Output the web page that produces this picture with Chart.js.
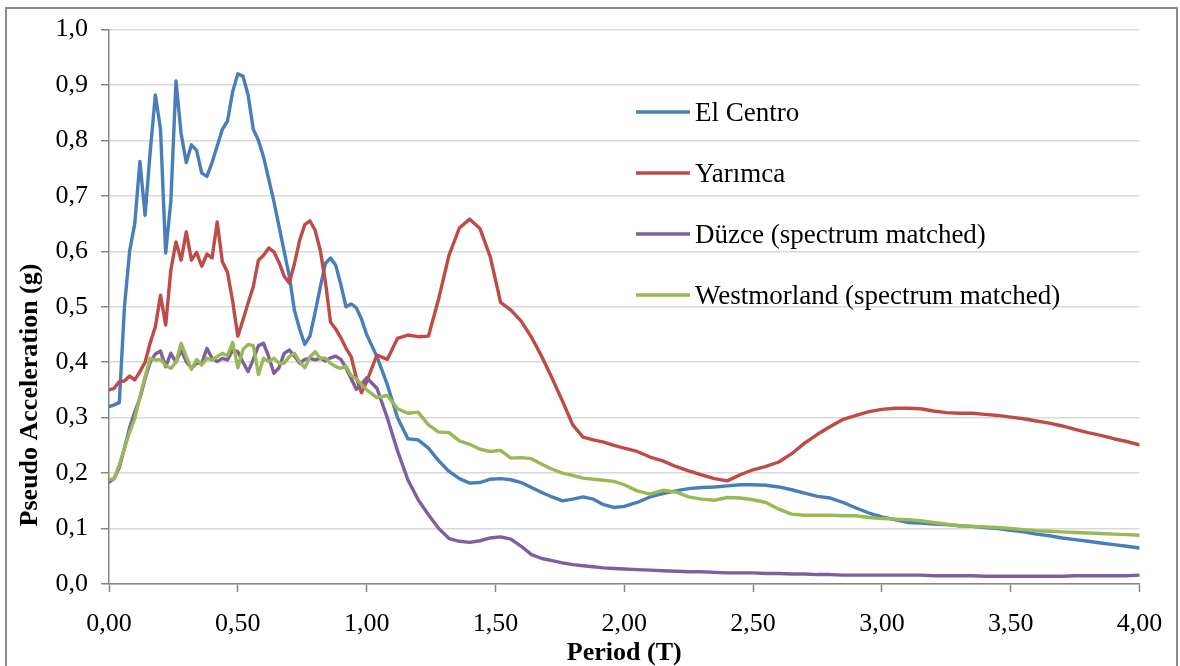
<!DOCTYPE html>
<html>
<head>
<meta charset="utf-8">
<script src="https://cdn.jsdelivr.net/npm/chart.js@4.4.1/dist/chart.umd.min.js"></script>
<style>
  html, body { margin: 0; padding: 0; background: #ffffff; }
  #chart { display: block; }
</style>
</head>
<body>
<canvas id="chart" width="1180" height="666"></canvas>
<script>
// Periods (s) shared by all four response spectra
const periods = [
  0, 0.02, 0.04, 0.06, 0.08, 0.1, 0.12, 0.14, 0.16, 0.18,
  0.2, 0.22, 0.24, 0.26, 0.28, 0.3, 0.32, 0.34, 0.36, 0.38,
  0.4, 0.42, 0.44, 0.46, 0.48, 0.5, 0.52, 0.54, 0.56, 0.58,
  0.6, 0.62, 0.64, 0.66, 0.68, 0.7, 0.72, 0.74, 0.76, 0.78,
  0.8, 0.82, 0.84, 0.86, 0.88, 0.9, 0.92, 0.94, 0.96, 0.98, 1.0,
  1.04, 1.08, 1.12, 1.16, 1.2, 1.24, 1.28, 1.32, 1.36, 1.4,
  1.44, 1.48, 1.52, 1.56, 1.6, 1.64, 1.68, 1.72, 1.76, 1.8,
  1.84, 1.88, 1.92, 1.96, 2.0,
  2.05, 2.1, 2.15, 2.2, 2.25, 2.3, 2.35, 2.4, 2.45, 2.5,
  2.55, 2.6, 2.65, 2.7, 2.75, 2.8, 2.85, 2.9, 2.95, 3.0,
  3.05, 3.1, 3.15, 3.2, 3.25, 3.3, 3.35, 3.4, 3.45, 3.5,
  3.55, 3.6, 3.65, 3.7, 3.75, 3.8, 3.85, 3.9, 3.95, 4.0
];

// Pseudo acceleration (g)
const elCentro = [
  0.32, 0.323, 0.327, 0.50, 0.60, 0.65, 0.762, 0.665, 0.78, 0.882,
  0.82, 0.597, 0.69, 0.907, 0.812, 0.76, 0.792, 0.782, 0.741, 0.735,
  0.76, 0.79, 0.82, 0.835, 0.888, 0.92, 0.916, 0.882, 0.82, 0.80,
  0.77, 0.73, 0.69, 0.645, 0.60, 0.555, 0.493, 0.46, 0.432, 0.447,
  0.49, 0.535, 0.578, 0.588, 0.575, 0.54, 0.50, 0.505, 0.498, 0.478, 0.45,
  0.41, 0.36, 0.30, 0.262, 0.26, 0.245, 0.222, 0.203, 0.19, 0.182,
  0.183, 0.189, 0.19, 0.188, 0.183, 0.174, 0.165, 0.157, 0.15, 0.153,
  0.157, 0.153, 0.143, 0.138, 0.14,
  0.147, 0.157, 0.163, 0.168, 0.172, 0.174, 0.175, 0.177, 0.179, 0.179,
  0.178, 0.175, 0.17, 0.164, 0.158, 0.155, 0.147, 0.137, 0.128, 0.121,
  0.116, 0.111, 0.11, 0.108, 0.107, 0.105, 0.104, 0.102, 0.10, 0.097,
  0.094, 0.09, 0.087, 0.083, 0.08, 0.077, 0.074, 0.071, 0.068, 0.065
];

const yarimca = [
  0.35, 0.353, 0.365, 0.366, 0.375, 0.368, 0.383, 0.40, 0.435, 0.464,
  0.521, 0.467, 0.566, 0.617, 0.584, 0.635, 0.584, 0.598, 0.573, 0.595,
  0.588, 0.653, 0.581, 0.562, 0.51, 0.447, 0.476, 0.507, 0.536, 0.584,
  0.593, 0.606, 0.599, 0.58, 0.555, 0.543, 0.578, 0.62, 0.648, 0.655,
  0.638, 0.602, 0.545, 0.472, 0.46, 0.444, 0.425, 0.41, 0.372, 0.345, 0.365,
  0.413, 0.405, 0.443, 0.449, 0.446, 0.447, 0.515, 0.593, 0.642, 0.658,
  0.641, 0.59, 0.508, 0.494, 0.474, 0.445, 0.41, 0.371, 0.33, 0.287,
  0.265, 0.26, 0.256, 0.25, 0.245,
  0.239, 0.229, 0.222, 0.212, 0.204, 0.197, 0.19, 0.186, 0.197, 0.206,
  0.212, 0.22, 0.235, 0.254, 0.27, 0.284, 0.297, 0.304, 0.311, 0.315,
  0.317, 0.317, 0.316, 0.312, 0.309, 0.308, 0.308, 0.306, 0.304, 0.301,
  0.298, 0.294, 0.29, 0.285, 0.279, 0.273, 0.268, 0.262, 0.257, 0.251
];

const duzce = [
  0.184, 0.19, 0.21, 0.245, 0.282, 0.31, 0.335, 0.37, 0.40, 0.415,
  0.42, 0.392, 0.416, 0.40, 0.422, 0.401, 0.389, 0.398, 0.398, 0.425,
  0.407, 0.401, 0.407, 0.404, 0.422, 0.419, 0.40, 0.383, 0.405, 0.43,
  0.434, 0.41, 0.38, 0.39, 0.416, 0.422, 0.411, 0.398, 0.405, 0.407,
  0.404, 0.407, 0.402, 0.408, 0.411, 0.405, 0.39, 0.37, 0.351, 0.36, 0.372,
  0.353, 0.30, 0.24, 0.188, 0.152, 0.125, 0.10, 0.082, 0.077, 0.075,
  0.078, 0.083, 0.085, 0.081, 0.068, 0.053, 0.046, 0.042, 0.038, 0.035,
  0.033, 0.031, 0.029, 0.028, 0.027,
  0.026, 0.025, 0.024, 0.023, 0.022, 0.022, 0.021, 0.02, 0.02, 0.02,
  0.019, 0.019, 0.018, 0.018, 0.017, 0.017, 0.016, 0.016, 0.016, 0.016,
  0.016, 0.016, 0.016, 0.015, 0.015, 0.015, 0.015, 0.014, 0.014, 0.014,
  0.014, 0.014, 0.014, 0.014, 0.015, 0.015, 0.015, 0.015, 0.015, 0.016
];

const westmorland = [
  0.188, 0.19, 0.215, 0.245, 0.274, 0.298, 0.338, 0.374, 0.407, 0.404,
  0.405, 0.394, 0.389, 0.40, 0.434, 0.41, 0.387, 0.405, 0.395, 0.407,
  0.404, 0.41, 0.416, 0.412, 0.436, 0.39, 0.423, 0.432, 0.43, 0.378,
  0.407, 0.401, 0.407, 0.398, 0.398, 0.41, 0.416, 0.401, 0.39, 0.41,
  0.419, 0.407, 0.407, 0.398, 0.392, 0.389, 0.393, 0.376, 0.37, 0.36, 0.35,
  0.336, 0.34, 0.316, 0.308, 0.31, 0.287, 0.274, 0.273, 0.258, 0.252,
  0.243, 0.239, 0.241, 0.227, 0.228, 0.226, 0.216, 0.207, 0.2, 0.196,
  0.191, 0.189, 0.187, 0.185, 0.179,
  0.168, 0.162, 0.169, 0.166, 0.157, 0.153, 0.151, 0.156, 0.155, 0.152,
  0.147, 0.135, 0.126, 0.124, 0.124, 0.124, 0.123, 0.123, 0.12, 0.118,
  0.117, 0.116, 0.114, 0.111, 0.108, 0.105, 0.104, 0.103, 0.102, 0.10,
  0.098, 0.096, 0.095, 0.094, 0.093, 0.092, 0.091, 0.09, 0.089, 0.088
];

const seriesNames = ['El Centro', 'Yarımca', 'Düzce (spectrum matched)', 'Westmorland (spectrum matched)'];
const seriesValues = [elCentro, yarimca, duzce, westmorland];
const seriesColors = ['#4a7ebb', '#be4b48', '#7d60a0', '#98b954'];

const xTitle = 'Period (T)';
const yTitle = 'Pseudo Acceleration (g)';

const SERIF = "'Liberation Serif', 'Times New Roman', serif";
const AXIS_GREY = '#868686';

// Outer frame of the chart
const framePlugin = {
  id: 'frame',
  beforeDraw(chart) {
    const ctx = chart.ctx;
    ctx.save();
    ctx.fillStyle = '#ffffff';
    ctx.fillRect(0, 0, chart.width, chart.height);
    ctx.strokeStyle = '#8c8c8c';
    ctx.lineWidth = 2;
    ctx.strokeRect(6, 8, 1171, 700);
    ctx.restore();
  }
};

// Vertical axis title, set lower than the plot's mid-height
const yTitlePlugin = {
  id: 'yTitle',
  afterDraw(chart) {
    const ctx = chart.ctx;
    ctx.save();
    ctx.translate(30, 395);
    ctx.rotate(-Math.PI / 2);
    ctx.font = 'bold 26px ' + SERIF;
    ctx.fillStyle = '#000000';
    ctx.textAlign = 'center';
    ctx.textBaseline = 'middle';
    ctx.fillText(yTitle, 0, 0);
    ctx.restore();
  }
};

// Legend stacked inside the plot area
const insideLegend = {
  id: 'insideLegend',
  afterDatasetsDraw(chart) {
    const ctx = chart.ctx;
    ctx.save();
    ctx.font = '27px ' + SERIF;
    ctx.textBaseline = 'alphabetic';
    ctx.textAlign = 'left';
    chart.data.datasets.forEach((ds, i) => {
      const y = 112 + i * 61;
      ctx.strokeStyle = ds.borderColor;
      ctx.lineWidth = 3.3;
      ctx.lineCap = 'butt';
      ctx.beginPath();
      ctx.moveTo(636, y);
      ctx.lineTo(690, y);
      ctx.stroke();
      ctx.fillStyle = '#000000';
      ctx.fillText(ds.label, 695, y + 9);
    });
    ctx.restore();
  }
};

const datasets = seriesNames.map((name, i) => ({
  label: name,
  data: periods.map((t, k) => ({ x: t, y: seriesValues[i][k] })),
  borderColor: seriesColors[i],
  backgroundColor: seriesColors[i],
  borderWidth: 3.4,
  pointRadius: 0,
  pointHoverRadius: 0,
  tension: 0,
  borderJoinStyle: 'round',
  borderCapStyle: 'round',
  fill: false,
  order: seriesNames.length - i
}));

new Chart(document.getElementById('chart'), {
  type: 'line',
  data: { datasets },
  plugins: [framePlugin, yTitlePlugin, insideLegend],
  options: {
    responsive: false,
    animation: false,
    devicePixelRatio: 1,
    layout: { padding: { left: 10, right: 40.5, top: 29.5, bottom: 0 } },
    plugins: {
      legend: { display: false },
      tooltip: { enabled: false }
    },
    scales: {
      x: {
        type: 'linear',
        min: 0,
        max: 4,
        afterFit(scale) { scale.height = 82; },
        ticks: {
          stepSize: 0.5,
          autoSkip: false,
          maxRotation: 0,
          minRotation: 0,
          padding: 17,
          color: '#000000',
          font: { family: SERIF, size: 26 },
          callback: (v) => Number(v).toFixed(2).replace('.', ',')
        },
        grid: {
          drawOnChartArea: false,
          drawTicks: true,
          tickLength: 8,
          tickColor: AXIS_GREY,
          tickWidth: 1.5
        },
        border: { display: true, color: AXIS_GREY, width: 1.5 },
        title: {
          display: true,
          text: xTitle,
          color: '#000000',
          font: { family: SERIF, size: 26, weight: 'bold' },
          padding: { top: 0, bottom: -3 }
        }
      },
      y: {
        type: 'linear',
        min: 0,
        max: 1,
        afterFit(scale) { scale.width = 99; },
        ticks: {
          stepSize: 0.1,
          padding: 13,
          color: '#000000',
          font: { family: SERIF, size: 26 },
          callback: (v) => Number(v).toFixed(1).replace('.', ',')
        },
        grid: {
          drawOnChartArea: true,
          color: '#d9d9d9',
          lineWidth: 1.5,
          drawTicks: true,
          tickLength: 8,
          tickColor: AXIS_GREY,
          tickWidth: 1.5
        },
        border: { display: true, color: AXIS_GREY, width: 1.5 },
        title: { display: false }
      }
    }
  }
});
</script>
</body>
</html>
